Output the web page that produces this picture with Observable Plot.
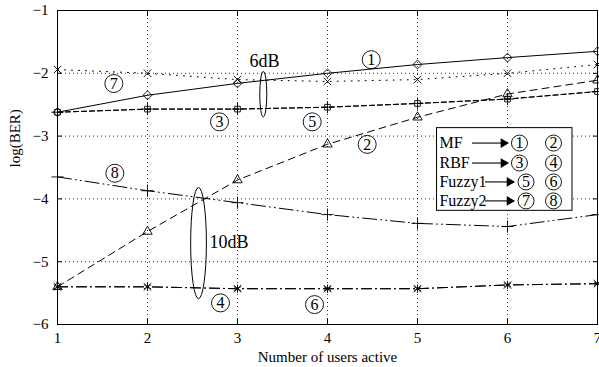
<!DOCTYPE html>
<html><head><meta charset="utf-8">
<script src="https://cdn.jsdelivr.net/npm/d3@7"></script>
<script src="https://cdn.jsdelivr.net/npm/@observablehq/plot@0.6"></script>
<style>body{margin:0;background:#fff}#chart svg{display:block}</style>
</head><body><div id="chart"></div>
<script>
// x values (number of active users)
const users = [1, 2, 3, 4, 5, 6, 7];
// log(BER) series
const mf1   = [-2.62, -2.35, -2.16, -2.00, -1.86, -1.75, -1.65]; // ①
const mf2   = [-5.40, -4.52, -3.70, -3.13, -2.70, -2.33, -2.11]; // ②
const rbf3  = [-2.62, -2.57, -2.57, -2.54, -2.48, -2.41, -2.29]; // ③
const rbf4  = [-5.40, -5.40, -5.43, -5.43, -5.43, -5.37, -5.35]; // ④
const fz5   = [-2.62, -2.57, -2.57, -2.54, -2.48, -2.41, -2.29]; // ⑤
const fz6   = [-5.40, -5.40, -5.43, -5.43, -5.43, -5.37, -5.35]; // ⑥
const fz7   = [-1.94, -2.00, -2.10, -2.13, -2.10, -2.00, -1.86]; // ⑦
const fz8   = [-3.65, -3.87, -4.06, -4.25, -4.39, -4.44, -4.25]; // ⑧

const yTicks = [-6, -5, -4, -3, -2, -1];

// circled curve labels
const curveLabels = ["1", "7", "3", "5", "2", "8", "4", "6"];
const curveLabelX = [4.486, 1.626, 2.800, 3.830, 4.441, 1.637, 2.811, 3.856];
const curveLabelY = [-1.783, -2.163, -2.773, -2.773, -3.132, -3.592, -5.656, -5.683];

// gap annotations
const gapText  = ["6dB", "10dB"];
const gapTextX = [3.133, 2.689];
const gapTextY = [-1.810, -4.690];
const ellX1 = [3.253, 2.485], ellX2 = [3.331, 2.660];
const ellY1 = [-1.979, -3.825], ellY2 = [-2.703, -5.598];

// legend
const legendNames   = ["MF", "RBF", "Fuzzy1", "Fuzzy2"];
const legendFirst   = ["1", "3", "5", "7"];
const legendSecond  = ["2", "4", "6", "8"];
const legendRowY    = [-3.111, -3.429, -3.730, -4.032];
const legendBoxX    = [5.217, 6.722];
const legendBoxY    = [-2.873, -4.190];
const legendTextX   = 5.244;
const legendArrowX1 = [5.667, 5.667, 5.811, 5.811];
const legendArrowX2 = [6.011, 6.011, 6.078, 6.078];
const legendC1X     = [6.133, 6.133, 6.206, 6.206];
const legendC2X     = [6.511, 6.511, 6.511, 6.511];

const rows = arr => users.map((x, i) => ({x, y: arr[i]}));
const minus = d => d < 0 ? "\u2212" + Math.abs(d) : String(d);

const lineOpts = (dash) => ({x: "x", y: "y", stroke: "black", strokeWidth: 1, strokeDasharray: dash});
const dotOpts = (symbol, r) => ({x: "x", y: "y", symbol, r, stroke: "black", strokeWidth: 0.9, fill: "none"});

const curveIdx = curveLabels.map((_, i) => i);
const legIdx = legendNames.map((_, i) => i);

const chart = Plot.plot({
  width: 599, height: 367,
  marginLeft: 57, marginRight: 2, marginTop: 10, marginBottom: 43,
  style: {fontFamily: "'Liberation Serif', 'Times New Roman', serif", fontSize: "15px", background: "white", color: "black"},
  x: {domain: [1, 7], label: null},
  y: {domain: [-6, -1], label: null},
  marks: [
    Plot.gridX(users, {stroke: "black", strokeOpacity: 1, strokeWidth: 0.8, strokeDasharray: "1,3"}),
    Plot.gridY(yTicks, {stroke: "black", strokeOpacity: 1, strokeWidth: 0.8, strokeDasharray: "1,3"}),
    Plot.axisX(users, {tickSize: -5, tickPadding: 13, tickFormat: d => String(d), fontSize: 15}),
    Plot.axisX(users, {anchor: "top", tickSize: -5, tickFormat: () => ""}),
    Plot.axisY(yTicks, {tickSize: -5, tickPadding: 14, tickFormat: minus, fontSize: 15}),
    Plot.axisY(yTicks, {anchor: "right", tickSize: -5, tickFormat: () => ""}),
    Plot.frame({stroke: "black", strokeWidth: 1}),

    Plot.line(rows(mf1), lineOpts(null)),
    Plot.dot(rows(mf1), dotOpts("diamond2", 4)),
    Plot.line(rows(mf2), lineOpts("7,5")),
    Plot.dot(rows(mf2), dotOpts("triangle2", 4.5)),
    Plot.line(rows(rbf3), lineOpts("5,3")),
    Plot.dot(rows(rbf3), dotOpts("square2", 3.6)),
    Plot.line(rows(fz5), lineOpts("5,3")),
    Plot.dot(rows(fz5), dotOpts("plus", 4)),
    Plot.line(rows(rbf4), lineOpts("10,4,1,4")),
    Plot.dot(rows(rbf4), dotOpts("asterisk", 4)),
    Plot.line(rows(fz6), lineOpts("10,4,1,4")),
    Plot.dot(rows(fz6), dotOpts("times", 3.5)),
    Plot.line(rows(fz7), lineOpts("1,6")),
    Plot.dot(rows(fz7), dotOpts("times", 3.5)),
    Plot.line(rows(fz8), lineOpts("14,4,1,4,1,4")),
    Plot.dot(rows(fz8), dotOpts("plus", 4)),

    // circled curve labels
    Plot.dot(curveIdx, {x: i => curveLabelX[i], y: i => curveLabelY[i], r: 9, stroke: "black", strokeWidth: 0.9, fill: "none"}),
    Plot.text(curveIdx, {x: i => curveLabelX[i], y: i => curveLabelY[i], text: i => curveLabels[i], fontSize: 16}),

    // gap annotations
    Plot.text(gapText.map((_, i) => i), {x: i => gapTextX[i], y: i => gapTextY[i], text: i => gapText[i], textAnchor: "start", fontSize: 18}),

    // legend
    Plot.rect([0], {x1: legendBoxX[0], x2: legendBoxX[1], y1: legendBoxY[0], y2: legendBoxY[1], fill: "white", stroke: "black", strokeWidth: 1}),
    Plot.text(legIdx, {x: legendTextX, y: i => legendRowY[i], text: i => legendNames[i], textAnchor: "start", fontSize: 16}),
    Plot.ruleY(legIdx, {x1: i => legendArrowX1[i], x2: i => legendArrowX2[i], y: i => legendRowY[i], stroke: "black", strokeWidth: 1.1, dx: -5}),
    Plot.dot(legIdx, {x: i => legendArrowX2[i], y: i => legendRowY[i], symbol: "triangle", rotate: 90, r: 3.6, fill: "black", dx: -5}),
    Plot.dot(legIdx, {x: i => legendC1X[i], y: i => legendRowY[i], r: 8, stroke: "black", strokeWidth: 0.9, fill: "none"}),
    Plot.text(legIdx, {x: i => legendC1X[i], y: i => legendRowY[i], text: i => legendFirst[i], fontSize: 16}),
    Plot.dot(legIdx, {x: i => legendC2X[i], y: i => legendRowY[i], r: 8, stroke: "black", strokeWidth: 0.9, fill: "none"}),
    Plot.text(legIdx, {x: i => legendC2X[i], y: i => legendRowY[i], text: i => legendSecond[i], fontSize: 16}),

    // axis titles
    Plot.text(["Number of users active"], {frameAnchor: "bottom", dy: 37, text: d => d, fontSize: 15}),
    Plot.text(["log(BER)"], {frameAnchor: "left", dx: -42, rotate: -90, text: d => d, fontSize: 15})
  ]
});

// ellipses around the gaps, positioned through the plot's own scales
const sx = chart.scale("x"), sy = chart.scale("y");
const g = d3.select(chart).append("g");
ellX1.forEach((_, i) => {
  const x1 = sx.apply(ellX1[i]), x2 = sx.apply(ellX2[i]);
  const y1 = sy.apply(ellY1[i]), y2 = sy.apply(ellY2[i]);
  g.append("ellipse")
    .attr("cx", (x1 + x2) / 2).attr("cy", (y1 + y2) / 2)
    .attr("rx", Math.abs(x2 - x1) / 2).attr("ry", Math.abs(y2 - y1) / 2)
    .attr("fill", "none").attr("stroke", "black").attr("stroke-width", 1);
});

document.getElementById("chart").appendChild(chart);
</script>
</body></html>
